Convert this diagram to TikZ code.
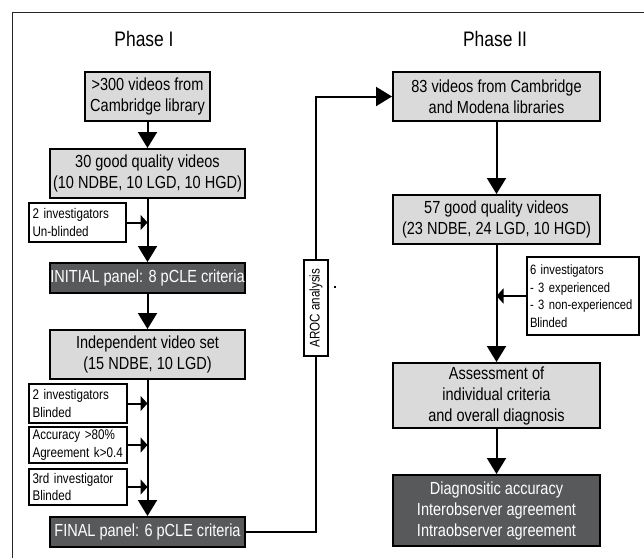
\documentclass[tikz,border=0pt]{standalone}
\usepackage{fontspec}
\setmainfont{Liberation Sans}[FakeStretch=0.83]
\usetikzlibrary{arrows.meta}
\definecolor{lightbox}{RGB}{218,218,218}
\definecolor{darkbox}{RGB}{88,89,91}

\begin{document}
\begin{tikzpicture}
    [ x=1pt, y=-1pt,
      line width=2pt,
      frame/.style={draw=black!85, line width=1.4pt},
      title/.style={font={\fontsize{21}{25}\selectfont}},
      box/.style={draw, fill=lightbox, font={\fontsize{17.5}{21}\selectfont},
                  align=center, inner sep=0pt, minimum height=49pt},
      panel/.style={box, fill=darkbox, text=white, minimum height=30pt},
      note/.style={draw, fill=white, font={\fontsize{14}{17.5}\selectfont},
                   align=left, inner xsep=3.5pt, inner ysep=0pt},
      flow/.style={-{Triangle[length=16pt,width=19pt]}},
      side/.style={-{Triangle[length=7pt,width=15pt]}}
    ]
    \useasboundingbox (0, 0) rectangle (644, 558);

    % Frame
    \draw[frame] (12.5, 558) |- (644, 12.5);

    % Titles
    \node[title] (ph1) at (144, 39) {Phase I};
    \node[title] (ph2) at (495, 39) {Phase II};

    % Phase I
    \node[box, minimum width=125pt] (src1) at (147.5, 96)
        {>300 videos from\\Cambridge library};
    \node[box, minimum width=195pt] (good30) at (147.5, 173.5)
        {30 good quality videos\\(10 NDBE, 10 LGD, 10 HGD)};
    \node[note, text width=90pt, minimum height=39pt] (inv1) at (77.5, 222.5)
        {2 investigators\\Un-blinded};
    \node[panel, minimum width=195pt] (initial) at (147.5, 278)
        {INITIAL panel: 8 pCLE criteria};
    \node[box, minimum width=195pt] (indep) at (147.5, 354.5)
        {Independent video set\\(15 NDBE, 10 LGD)};
    \node[note, text width=91pt, minimum height=39pt] (inv2) at (78, 403.5)
        {2 investigators\\Blinded};
    \node[note, text width=91pt, minimum height=36pt] (acc) at (78, 445)
        {Accuracy >80\%\\Agreement k>0.4};
    \node[note, text width=91pt, minimum height=36pt] (inv3) at (78, 487)
        {3rd investigator\\Blinded};
    \node[panel, minimum width=195pt] (final) at (147.5, 532)
        {FINAL panel: 6 pCLE criteria};

    \draw[flow] (src1) -- (good30);
    \draw[flow] (good30) -- (initial);
    \draw[side] (inv1.east) -- (inv1.east -| good30.center);
    \draw[flow] (initial) -- (indep);
    \draw[flow] (indep) -- (final);
    \foreach \n in {inv2, acc, inv3} {
        \draw[side] (\n.east) -- (\n.east -| indep.center);
    }

    % AROC link
    \node[note, rotate=90, align=center, inner xsep=0pt,
          minimum width=96pt, minimum height=24.5pt] (aroc) at (316, 308)
        {AROC analysis};
    \fill (333.5, 285.5) rectangle (335.5, 288);

    % Phase II
    \node[box, minimum width=207pt] (src2) at (496.5, 96.5)
        {83 videos from Cambridge\\and Modena libraries};
    \node[box, minimum width=207pt] (good57) at (496.5, 219.5)
        {57 good quality videos\\(23 NDBE, 24 LGD, 10 HGD)};
    \node[note, font={\fontsize{13.5}{17.5}\selectfont}, inner xsep=3pt,
          text width=106pt, minimum height=78pt] (inv6) at (583, 296)
        {6 investigators\\- 3 experienced\\- 3 non-experienced\\Blinded};
    \node[box, minimum width=207pt, minimum height=65pt] (assess) at (496.5, 395.5)
        {Assessment of\\individual criteria\\and overall diagnosis};
    \node[panel, minimum width=207pt, minimum height=71pt] (diag) at (496.5, 510.5)
        {Diagnositic accuracy\\Interobserver agreement\\Intraobserver agreement};

    \draw (final.east) -| (aroc.west);
    \draw[flow] (aroc.east) |- (src2.west);
    \draw[flow] (src2) -- (good57);
    \draw[flow] (good57) -- (assess);
    \draw[side] (inv6.west) -- (inv6.west -| good57.center);
    \draw[flow] (assess) -- (diag);

\end{tikzpicture}
\end{document}
